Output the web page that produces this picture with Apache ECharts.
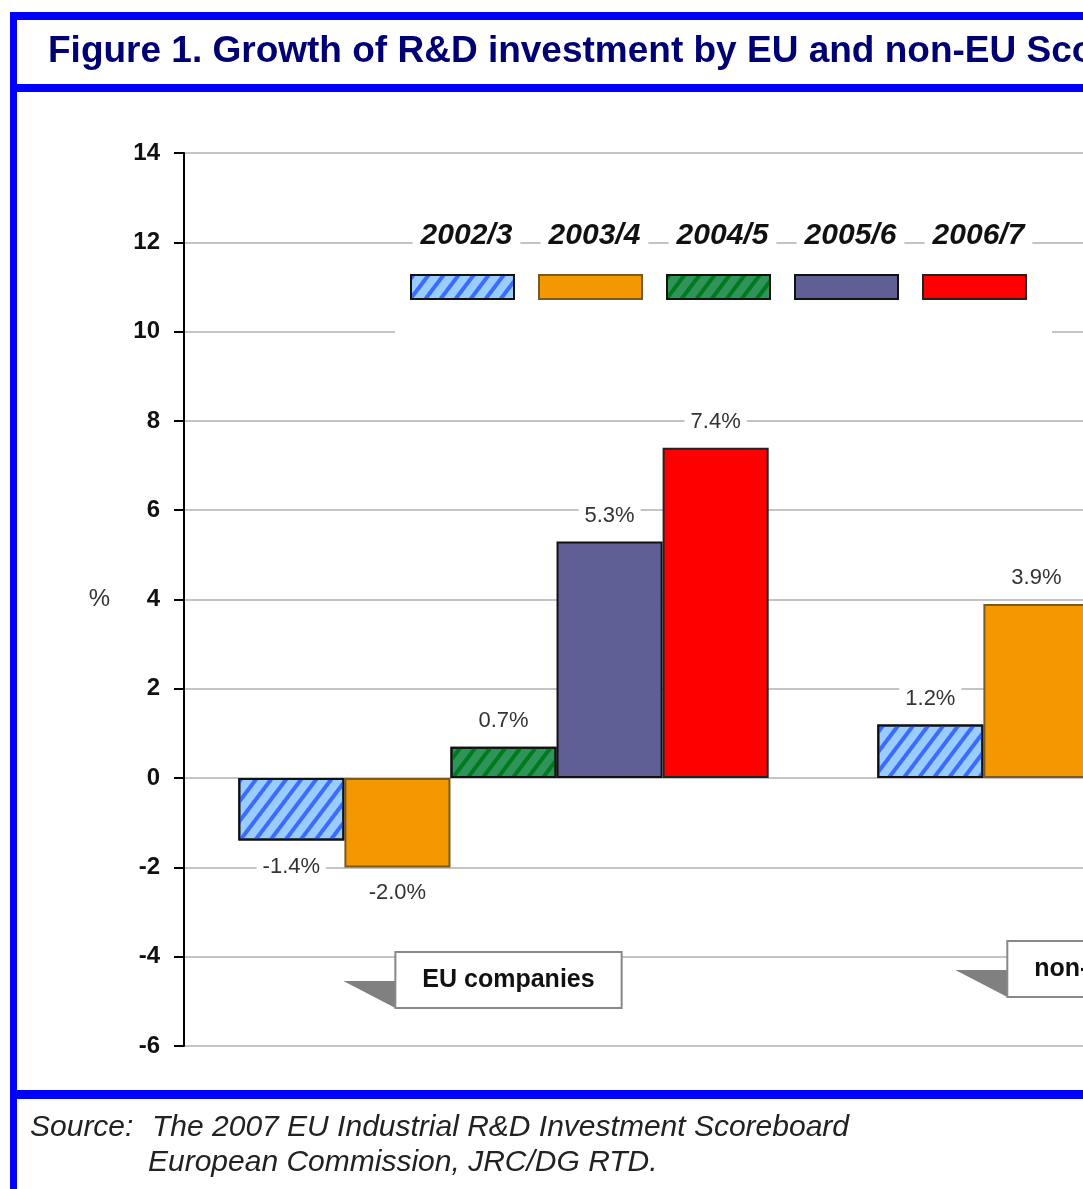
<!DOCTYPE html>
<html>
<head>
<meta charset="utf-8">
<script src="https://cdn.jsdelivr.net/npm/echarts@6/dist/echarts.min.js"></script>
<style>
html, body { margin: 0; padding: 0; overflow: hidden; background: #fff; }
#chart { width: 1600px; height: 1189px; }
</style>
</head>
<body>
<div id="chart"></div>
<script>
// categories on the x axis
const categories = ['EU companies', 'non-EU companies'];
// periods (one series each)
const seriesNames = ['2002/3', '2003/4', '2004/5', '2005/6', '2006/7'];
// growth in %, [EU, non-EU]; later non-EU bars are cut off in the source picture
const growth0203 = [-1.4, 1.2];
const growth0304 = [-2.0, 3.9];
const growth0405 = [0.7, null];
const growth0506 = [5.3, null];
const growth0607 = [7.4, null];
// y axis ticks
const yMin = -6, yMax = 14, yStep = 2;

const titleText = 'Figure 1. Growth of R&D investment by EU and non-EU Scoreboard companies';
const sourceLabel = 'Source:';
const sourceLines = ['The 2007 EU Industrial R&D Investment Scoreboard', 'European Commission, JRC/DG RTD.'];

const FONT = '"Liberation Sans", Arial, sans-serif';
const BLUE = '#0000ff';

const styles = [
  { color: '#99ccff', borderColor: '#111', decal: { symbol: 'rect', symbolSize: 1, color: '#3b6cff', dashArrayX: [1, 0], dashArrayY: [4, 8], rotation: -Math.PI / 3.4 } },
  { color: '#f39800', borderColor: '#7a5a20' },
  { color: '#2e9459', borderColor: '#111', decal: { symbol: 'rect', symbolSize: 1, color: '#007a1e', dashArrayX: [1, 0], dashArrayY: [4, 8], rotation: -Math.PI / 3.4 } },
  { color: '#5f5f96', borderColor: '#111' },
  { color: '#ff0000', borderColor: '#222' }
];
const values = [growth0203, growth0304, growth0405, growth0506, growth0607];

const chart = echarts.init(document.getElementById('chart'), null, { renderer: 'canvas' });

const series = seriesNames.map((name, i) => ({
  name: name,
  type: 'bar',
  barGap: '0%',
  barCategoryGap: '17%',
  itemStyle: Object.assign({ borderWidth: 2 }, styles[i]),
  label: {
    show: true,
    distance: 14,
    fontFamily: FONT,
    fontSize: 22,
    color: '#333',
    backgroundColor: '#fff',
    padding: [1, 6],
    formatter: p => p.value.toFixed(1) + '%'
  },
  emphasis: { disabled: true },
  data: values[i].map(v => v == null ? null : ({ value: v, label: { position: v < 0 ? 'bottom' : 'top' } }))
}));

// legend layout
const legLeft = 410, legTop = 274, legW = 103, legH = 24, legGap = 23;
const legPitch = legW + legGap + 2;

chart.setOption({
  animation: false,
  backgroundColor: '#fff',
  grid: { left: 184, top: 153, width: 1278, height: 893 },
  xAxis: {
    type: 'category',
    data: categories,
    axisLine: { show: false },
    axisTick: { show: false },
    axisLabel: { show: false },
    splitLine: { show: false }
  },
  yAxis: {
    type: 'value',
    min: yMin, max: yMax, interval: yStep,
    name: '%',
    nameLocation: 'middle',
    nameRotate: 0,
    nameGap: 74,
    nameTextStyle: { fontFamily: FONT, fontSize: 24, color: '#333' },
    axisLine: { show: true, lineStyle: { color: '#000', width: 2 } },
    axisTick: { show: true, length: 10, lineStyle: { color: '#000', width: 2 } },
    axisLabel: { margin: 24, fontFamily: FONT, fontSize: 24, fontWeight: 'bold', color: '#111' },
    splitLine: { show: true, lineStyle: { color: '#c4c4c4', width: 2 } }
  },
  legend: {
    left: legLeft, top: legTop, padding: 0,
    itemWidth: legW, itemHeight: legH, itemGap: legGap,
    icon: 'rect',
    formatter: () => '',
    selectedMode: false,
    data: seriesNames
  },
  series: series
});

// decorations computed from the layout
const graphics = [];
// frame
graphics.push({ type: 'rect', shape: { x: 10, y: 12, width: 1600, height: 8 }, style: { fill: BLUE }, z: 10 });
graphics.push({ type: 'rect', shape: { x: 10, y: 84, width: 1600, height: 8 }, style: { fill: BLUE }, z: 10 });
graphics.push({ type: 'rect', shape: { x: 10, y: 1090, width: 1600, height: 9 }, style: { fill: BLUE }, z: 10 });
graphics.push({ type: 'rect', shape: { x: 10, y: 12, width: 7, height: 1180 }, style: { fill: BLUE }, z: 10 });
// title
graphics.push({ type: 'text', x: 48, y: 52, z: 10, style: { text: titleText, font: 'bold 37px ' + FONT, fill: '#000075', verticalAlign: 'middle' } });
// source
graphics.push({ type: 'text', x: 30, y: 1128, z: 10, style: { text: sourceLabel, font: 'italic 30px ' + FONT, fill: '#222', verticalAlign: 'middle' } });
graphics.push({ type: 'text', x: 152, y: 1128, z: 10, style: { text: sourceLines[0], font: 'italic 30px ' + FONT, fill: '#222', verticalAlign: 'middle' } });
graphics.push({ type: 'text', x: 148, y: 1163, z: 10, style: { text: sourceLines[1], font: 'italic 30px ' + FONT, fill: '#222', verticalAlign: 'middle' } });
// white panel behind legend
graphics.push({ type: 'rect', shape: { x: 395, y: 252, width: 657, height: 84 }, style: { fill: '#fff' }, z: 1 });
// legend names above the swatches
seriesNames.forEach((name, i) => {
  const cx = legLeft + i * legPitch + legW / 2 + 5;
  graphics.push({ type: 'text', x: cx, y: 236, z: 2, style: {
    text: name, font: 'italic bold 30px ' + FONT, fill: '#111',
    align: 'center', verticalAlign: 'middle', backgroundColor: '#fff', padding: [0, 8]
  } });
});
// category callouts
const calloutY = [980, 969];
const measure = document.createElement('canvas').getContext('2d');
const calloutFont = 'bold 25px ' + FONT;
measure.font = calloutFont;
categories.forEach((cat, i) => {
  const cx = chart.convertToPixel({ xAxisIndex: 0 }, cat) + 5;
  const w = measure.measureText(cat).width + 46;
  const left = cx - w / 2 - 4, top = calloutY[i] - 28, bottom = calloutY[i] + 28;
  graphics.push({ type: 'polygon', z: 5, shape: { points: [[left - 52, bottom - 27], [left, bottom - 27], [left, bottom]] }, style: { fill: '#808080' } });
  graphics.push({ type: 'rect', z: 5, shape: { x: left, y: top, width: w + 8, height: 56 }, style: { fill: '#fff', stroke: '#888', lineWidth: 2 } });
  graphics.push({ type: 'text', z: 6, x: cx, y: calloutY[i], style: { text: cat, font: calloutFont, fill: '#111', align: 'center', verticalAlign: 'middle' } });
});

chart.setOption({ graphic: graphics });
</script>
</body>
</html>
